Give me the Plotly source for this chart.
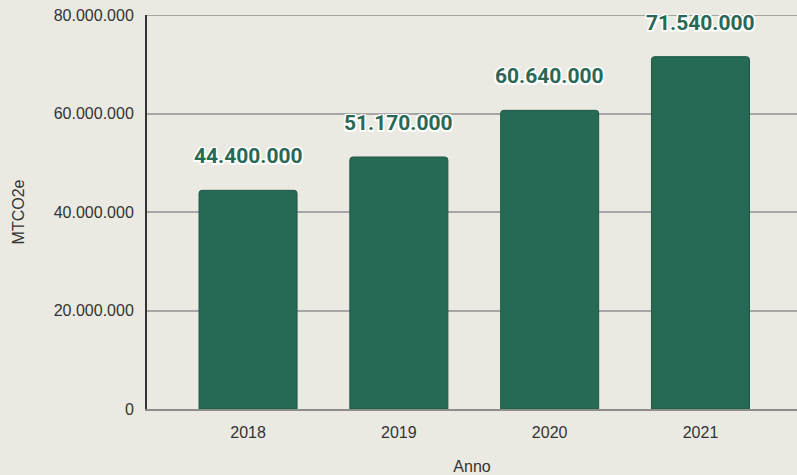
import plotly.graph_objects as go

anni = ["2018", "2019", "2020", "2021"]
emissioni = [44400000, 51170000, 60640000, 71540000]
y_ticks = [0, 20000000, 40000000, 60000000, 80000000]
y_ticklabels = ["0", "20.000.000", "40.000.000", "60.000.000", "80.000.000"]


def fmt_it(v):
    return f"{v:,}".replace(",", ".")


fig = go.Figure()
fig.add_trace(go.Bar(
    x=anni,
    y=emissioni,
    marker=dict(color="#266a56", line=dict(color="#1f5847", width=1), cornerradius=3),
    width=0.65,
    hoverinfo="skip",
))

# top gridline at the end of the value range
fig.add_shape(
    type="line", xref="paper", x0=0, x1=1, yref="y", y0=y_ticks[-1], y1=y_ticks[-1],
    line=dict(color="#a6a6a6", width=2), layer="below",
)

# value labels above each bar, with a white halo
halo = (
    "1.5px 1.5px 0 #ffffff, -1.5px -1.5px 0 #ffffff, 1.5px -1.5px 0 #ffffff, -1.5px 1.5px 0 #ffffff, "
    "0 0 3px #ffffff"
)
for i, v in enumerate(emissioni):
    fig.add_annotation(
        x=i, y=v, xref="x", yref="y", text=fmt_it(v), showarrow=False,
        yanchor="bottom", yshift=20,
        font=dict(family="Roboto", size=21, color="#2a6856", weight="bold", shadow=halo),
    )

fig.update_layout(
    width=797, height=475,
    margin=dict(l=147, r=0, t=15, b=66),
    paper_bgcolor="#eaeae2",
    plot_bgcolor="#eaeae2",
    showlegend=False,
    font=dict(family="Liberation Sans, Arial", color="#333333"),
    xaxis=dict(
        type="category",
        range=[-0.67, 3.64],
        showgrid=False,
        showline=True, linecolor="#8c8c8c", linewidth=2,
        ticks="", ticklabelstandoff=8,
        tickfont=dict(size=16, color="#333333"),
        title=dict(text="Anno", font=dict(size=16, color="#333333"), standoff=22),
    ),
    yaxis=dict(
        range=[0, 80000000],
        tickvals=y_ticks, ticktext=y_ticklabels,
        showgrid=True, gridcolor="#a6a6a6", gridwidth=2,
        zeroline=False,
        showline=True, linecolor="#333333", linewidth=2,
        ticks="", ticklabelstandoff=8,
        tickfont=dict(size=16, color="#333333"),
        title=dict(text="MTCO2e", font=dict(size=16, color="#333333"), standoff=25),
    ),
)

fig.write_html("out.html")
